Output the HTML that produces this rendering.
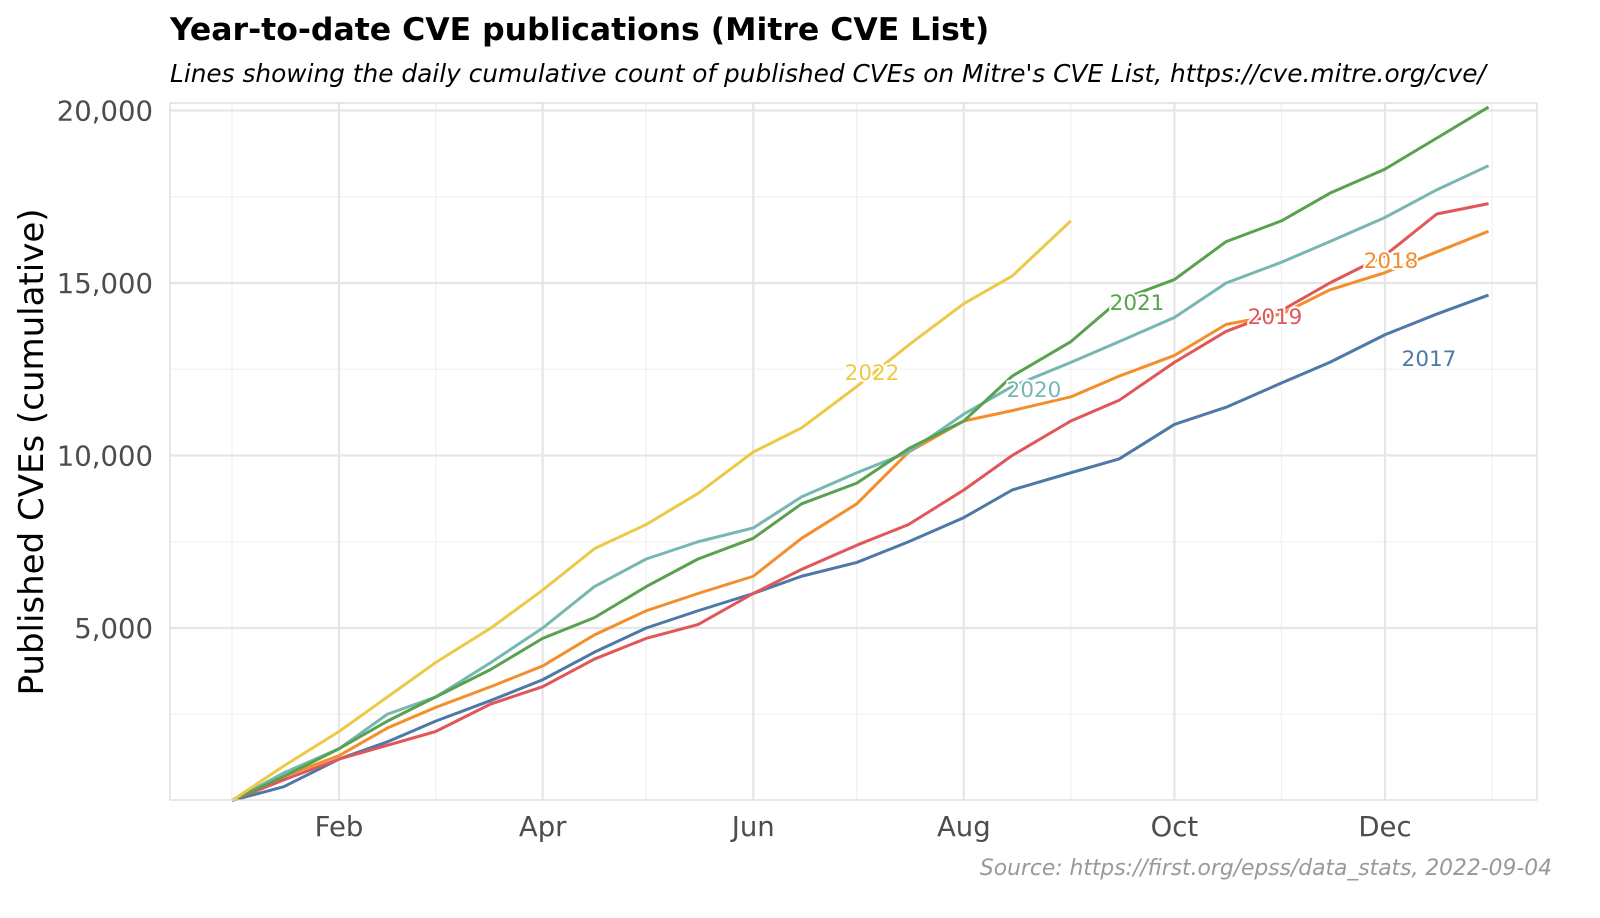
<!DOCTYPE html>
<html><head><meta charset="utf-8"><style>
body{margin:0;background:#fff;font-family:"DejaVu Sans","Liberation Sans",sans-serif}
svg text{font-family:"DejaVu Sans","Liberation Sans",sans-serif}
</style></head><body>
<svg id="chart" width="1600" height="914" viewBox="0 0 1600 914" xmlns="http://www.w3.org/2000/svg">
<rect width="1600" height="914" fill="#fff"/>
<text x="170" y="40" font-size="31.5" font-weight="bold" fill="#000">Year-to-date CVE publications (Mitre CVE List)</text>
<text x="170" y="82" font-size="24.8" font-style="italic" fill="#000">Lines showing the daily cumulative count of published CVEs on Mitre's CVE List, https://cve.mitre.org/cve/</text>
<text transform="translate(43,452) rotate(-90)" text-anchor="middle" font-size="34" fill="#000">Published CVEs (cumulative)</text>
<text x="1552" y="875" text-anchor="end" font-size="21.8" font-style="italic" fill="#999">Source: https://first.org/epss/data_stats, 2022-09-04</text>
<g id="grid"></g><g id="lines"></g><g id="labels"></g>
<rect x="170" y="103" width="1367" height="697" fill="none" stroke="#d9d9d9" stroke-width="1.2"/>
</svg>
<script>
const days=[0,15,31,45,59,75,90,105,120,135,151,165,181,196,212,226,243,257,273,288,304,318,334,349,364];
const s2017=[0,400,1200,1700,2300,2900,3500,4300,5000,5500,6000,6500,6900,7500,8200,9000,9500,9900,10900,11400,12100,12700,13500,14100,14650];
const s2018=[0,700,1300,2100,2700,3300,3900,4800,5500,6000,6500,7600,8600,10100,11000,11300,11700,12300,12900,13800,14100,14800,15300,15900,16500];
const s2019=[0,600,1200,1600,2000,2800,3300,4100,4700,5100,6000,6700,7400,8000,9000,10000,11000,11600,12700,13600,14200,15000,15800,17000,17300];
const s2020=[0,800,1500,2500,3000,4000,5000,6200,7000,7500,7900,8800,9500,10100,11200,12000,12700,13300,14000,15000,15600,16200,16900,17700,18400];
const s2021=[0,700,1500,2300,3000,3800,4700,5300,6200,7000,7600,8600,9200,10200,11000,12300,13300,14500,15100,16200,16800,17600,18300,19200,20100];
const s2022=[0,1000,2000,3000,4000,5000,6100,7300,8000,8900,10100,10800,12000,13200,14400,15200,16800];
const yTicks=[5000,10000,15000,20000];
const yTickLabels=["5,000","10,000","15,000","20,000"];
const xTickDays=[31,90,151,212,273,334];
const xTickLabels=["Feb","Apr","Jun","Aug","Oct","Dec"];
const xMinorDays=[0,59,120,181,243,304,365];
const yMinor=[2500,7500,12500,17500];
const seriesNames=["2017","2018","2019","2020","2021","2022"];
const seriesData=[s2017,s2018,s2019,s2020,s2021,s2022];
const colors=["#4e79a7","#f28e2b","#e15759","#76b7b2","#59a14f","#edc948"];
const labelPos=[[1429,358],[1391,260],[1275,316],[1034,389],[1137,302],[872,372]];
const X=d=>232+d*3.452, Y=v=>800.5-v*0.0345;
const NS="http://www.w3.org/2000/svg";
const grid=document.getElementById('grid'),lines=document.getElementById('lines'),labels=document.getElementById('labels');
function mk(p,tag,a){const e=document.createElementNS(NS,tag);for(const k in a)e.setAttribute(k,a[k]);p.appendChild(e);return e;}
yMinor.forEach(v=>{const l=mk(grid,'line',{x1:170,x2:1537,y1:Y(v),y2:Y(v),stroke:'#f0f0f0','stroke-width':1.2});

});
xMinorDays.forEach(d=>{const l=mk(grid,'line',{x1:X(d),x2:X(d),y1:103,y2:800,stroke:'#f0f0f0','stroke-width':1.2});

});
yTicks.forEach((v,i)=>{const l=mk(grid,'line',{x1:170,x2:1537,y1:Y(v),y2:Y(v),stroke:'#e6e6e6','stroke-width':2.2});


const t=mk(grid,'text',{x:153,y:Y(v)+10,'text-anchor':'end','font-size':27.5,fill:'#4d4d4d'});t.textContent=yTickLabels[i];

});
xTickDays.forEach((d,i)=>{const l=mk(grid,'line',{x1:X(d),x2:X(d),y1:103,y2:800,stroke:'#e6e6e6','stroke-width':2.2});


const t=mk(grid,'text',{x:X(d),y:836,'text-anchor':'middle','font-size':27.5,fill:'#4d4d4d'});t.textContent=xTickLabels[i];

});
seriesData.forEach((s,i)=>{const pts=s.map((v,j)=>X(days[j])+','+Y(v)).join(' ');
const p=mk(lines,'polyline',{points:pts,fill:'none',stroke:colors[i],'stroke-width':3,'stroke-linejoin':'round'});


const t=mk(labels,'text',{x:labelPos[i][0],y:labelPos[i][1]+8,'text-anchor':'middle','font-size':21.5,fill:colors[i],stroke:'#fff','stroke-width':4,'paint-order':'stroke'});t.textContent=seriesNames[i];

});
</script>
</body></html>
